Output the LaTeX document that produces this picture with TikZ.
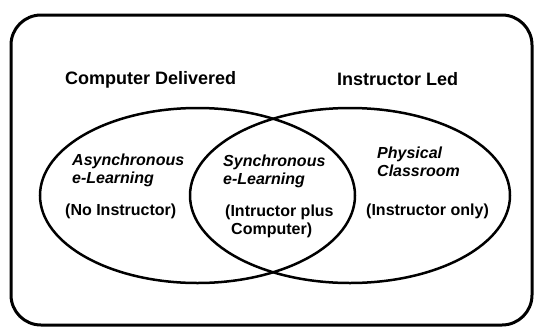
\documentclass[tikz,border=0pt]{standalone}
\usepackage{fontspec}
\setmainfont{Liberation Sans}
\usetikzlibrary{shapes.geometric}

\begin{document}
\begin{tikzpicture}[x=1pt, y=-1pt, frame/.style={draw=black, line width=3pt, rounded corners=30pt}, set/.style={ellipse, draw=black, line width=2.5pt, minimum width=315, minimum height=175}, heading/.style={font=\fontsize{18}{21}\selectfont\bfseries, inner sep=0pt}, settext/.style={font=\fontsize{16}{18.5}\selectfont\bfseries, align=left, inner sep=0pt}, kindtext/.style={settext, font=\fontsize{16}{18.5}\selectfont\bfseries\itshape}]
    \useasboundingbox (0,0) rectangle (535,327);

    %Nodes
    \node[frame, minimum width=521, minimum height=310](box) at (271.5,170){};
    \node[set](computer) at (197.5,195.5){};
    \node[set, minimum width=320](instructor) at (350,195.5){};
    \node[heading, anchor=base west](computer_title) at (65,84){Computer Delivered};
    \node[heading, anchor=base west](instructor_title) at (337,85){Instructor Led};
    \node[kindtext, anchor=north west](async) at (72,153.5){Asynchronous\\e-Learning};
    \node[settext, anchor=base west](async_note) at (65,215){(No Instructor)};
    \node[kindtext, anchor=north west](sync) at (223,154.5){Synchronous\\e-Learning};
    \node[settext, anchor=north west](sync_note) at (225,204.5){(Intructor plus\\\hspace*{6pt}Computer)};
    \node[kindtext, anchor=north west](physical) at (377,146.5){Physical\\Classroom};
    \node[settext, anchor=base west](physical_note) at (366,215){(Instructor only)};

\end{tikzpicture}
\end{document}
